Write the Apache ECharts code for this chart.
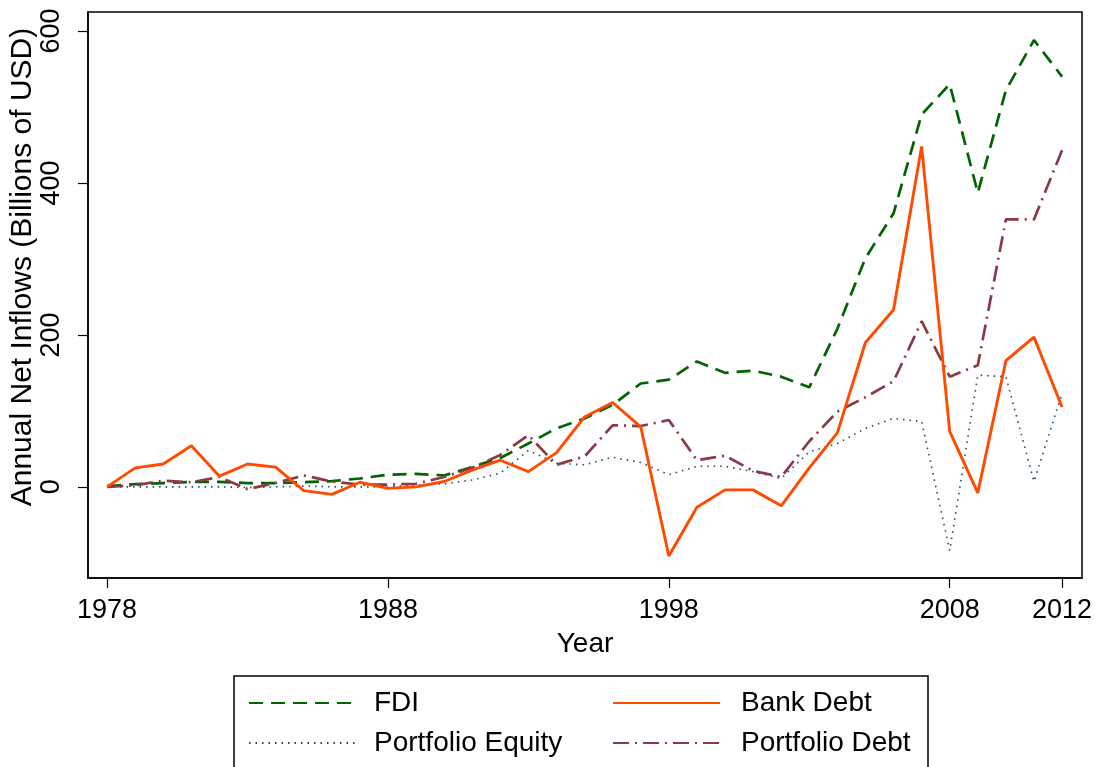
<!DOCTYPE html>
<html>
<head>
<meta charset="utf-8">
<script src="https://cdn.jsdelivr.net/npm/echarts@6/dist/echarts.min.js"></script>
<style>
html,body{margin:0;padding:0;background:#fff;}
#c{width:1098px;height:767px;}
</style>
</head>
<body>
<div id="c"></div>
<script>
var years = [1978,1979,1980,1981,1982,1983,1984,1985,1986,1987,1988,1989,1990,1991,1992,1993,1994,1995,1996,1997,1998,1999,2000,2001,2002,2003,2004,2005,2006,2007,2008,2009,2010,2011,2012];
var fdi = [1,3.5,5,6.5,6.5,5,5,6,7.5,11,16,17,15,26,38,57,77,90,108,136,141,165,150,153,145,131,208,301,360,490,530,387,522,588,540];
var bankDebt = [0,25,30,54,14,30,26,-5,-10,6,-2,0,7,22,35,20,45,92,111,79,-91,-27,-4,-4,-25,25,71,190,233,448,73,-8,166,197,105];
var portfolioEquity = [0,0,0,0,0,-1,0,1,0,0,0,2.6,4,9,18,48,31,29,39,32,16,27,27,20,11,46,57,77,90,86,-84,147,145,7,123];
var portfolioDebt = [0,2,8,6,13,-3,5,15,7,3,3,4,13,25,42,68,29,40,81,80,88,35,41,21,13,60,99,118,139,218,145,160,352,352,443];
var xTicks = [1978,1988,1998,2008,2012];
var yTicks = [0,200,400,600];
var seriesNames = ['FDI','Bank Debt','Portfolio Equity','Portfolio Debt'];

function pairs(vals){ return years.map(function(y,i){ return [y, vals[i]]; }); }

var FONT = '"Liberation Sans", Arial, Helvetica, sans-serif';
var chart = echarts.init(document.getElementById('c'), null, {renderer:'canvas'});

var legendBase = function(name, left, top, padLeft){
  return {
    data:[name], left:left, top:top, padding:0, itemWidth:107, itemHeight:14,
    itemStyle:{color:'rgba(0,0,0,0)', borderColor:'rgba(0,0,0,0)', borderWidth:0, opacity:0},
    textStyle:{fontFamily:FONT, fontSize:28, color:'#000', padding:[0,0,0,padLeft]},
    selectedMode:false
  };
};

chart.setOption({
  backgroundColor:'#fff',
  animation:false,
  grid:{left:88, right:16, top:12, bottom:189, show:true, borderColor:'#000', borderWidth:1.5, backgroundColor:'#fff'},
  xAxis:{
    type:'value', min:1977.32, max:2012.71,
    name:'Year', nameLocation:'middle', nameGap:52,
    nameTextStyle:{fontFamily:FONT, fontSize:28, color:'#000'},
    axisLine:{show:true, onZero:false, lineStyle:{color:'#000', width:1.5}},
    axisTick:{show:true, length:10, lineStyle:{color:'#000', width:1.2}, customValues:xTicks},
    axisLabel:{fontFamily:FONT, fontSize:27, color:'#000', margin:19, customValues:xTicks, formatter:function(v){return String(v);}},
    splitLine:{show:false}
  },
  yAxis:{
    type:'value', min:-120, max:625,
    axisLine:{show:true, onZero:false, lineStyle:{color:'#000', width:1.5}},
    axisTick:{show:true, length:10, lineStyle:{color:'#000', width:1.2}, customValues:yTicks},
    axisLabel:{fontFamily:FONT, fontSize:27, color:'#000', margin:23, rotate:90, customValues:yTicks},
    splitLine:{show:false}
  },
  legend:[
    legendBase('FDI', 248, 689, 13),
    legendBase('Bank Debt', 612, 689, 16),
    legendBase('Portfolio Equity', 248, 729, 13),
    legendBase('Portfolio Debt', 612, 729, 16)
  ],
  graphic:[
    {type:'rect', shape:{x:234, y:676, width:694, height:100}, style:{fill:'none', stroke:'#000', lineWidth:1.5}, silent:true},
    {type:'text', x:23, y:267, rotation:Math.PI/2, style:{text:'Annual Net Inflows (Billions of USD)', font:'30px ' + FONT, fill:'#000', textAlign:'center', textVerticalAlign:'middle'}, silent:true}
  ],
  series:[
    {name:seriesNames[0], type:'line', data:pairs(fdi), symbol:'none', z:2,
     lineStyle:{color:'#006400', width:2.7, type:[14,8]}, itemStyle:{color:'#006400'}},
    {name:seriesNames[2], type:'line', data:pairs(portfolioEquity), symbol:'none', z:3,
     lineStyle:{color:'#1a476f', width:1.6, type:[1.5,5]}, itemStyle:{color:'#1a476f'}},
    {name:seriesNames[3], type:'line', data:pairs(portfolioDebt), symbol:'none', z:4,
     lineStyle:{color:'#8b3a44', width:2.7, type:[16,6,2,6]}, itemStyle:{color:'#8b3a44'}},
    {name:seriesNames[1], type:'line', data:pairs(bankDebt), symbol:'none', z:5,
     lineStyle:{color:'#ff4a00', width:2.9, type:'solid'}, itemStyle:{color:'#ff4a00'}}
  ]
});
</script>
</body>
</html>
